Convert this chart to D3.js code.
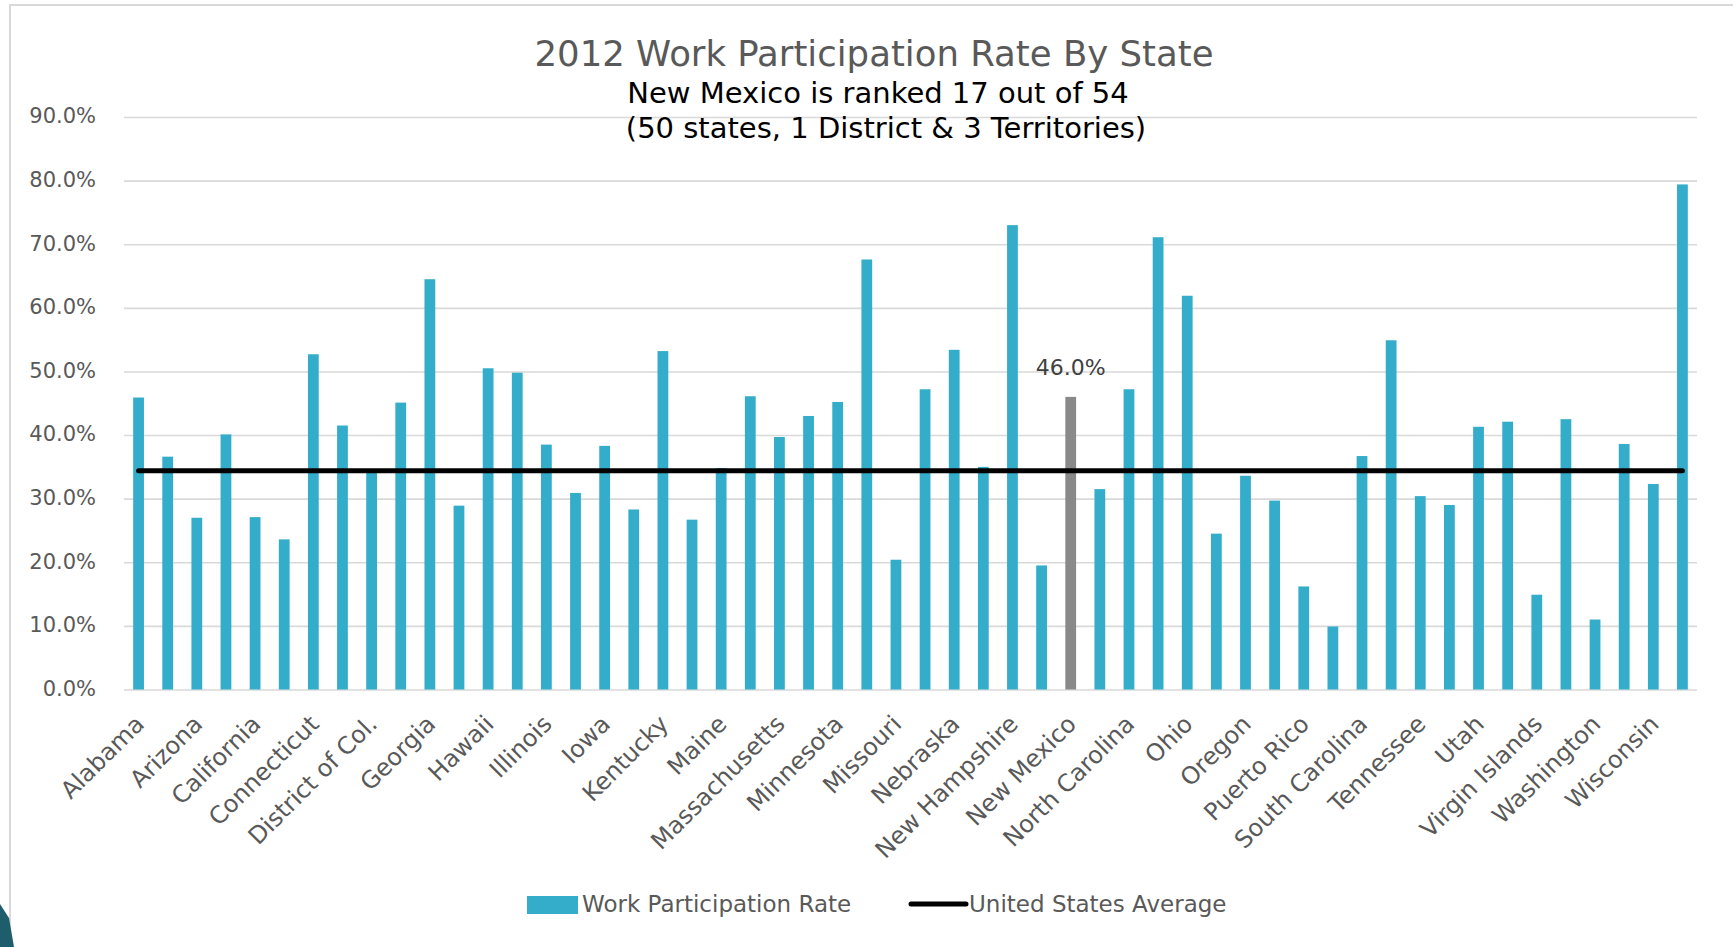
<!DOCTYPE html>
<html>
<head>
<meta charset="utf-8">
<script src="https://cdn.jsdelivr.net/npm/d3@7"></script>
<style>
  html, body { margin: 0; padding: 0; background: #ffffff; }
  svg { display: block; }
  text { font-family: "DejaVu Sans", sans-serif; }
</style>
</head>
<body>
<svg id="chart" width="1733" height="947"></svg>
<script>
// Work participation rate (%) by state, 2012
const states = [
  "Alabama", "Alaska", "Arizona", "Arkansas", "California", "Colorado",
  "Connecticut", "Delaware", "District of Col.", "Florida", "Georgia", "Guam",
  "Hawaii", "Idaho", "Illinois", "Indiana", "Iowa", "Kansas",
  "Kentucky", "Louisiana", "Maine", "Maryland", "Massachusetts", "Michigan",
  "Minnesota", "Mississippi", "Missouri", "Montana", "Nebraska", "Nevada",
  "New Hampshire", "New Jersey", "New Mexico", "New York", "North Carolina", "North Dakota",
  "Ohio", "Oklahoma", "Oregon", "Pennsylvania", "Puerto Rico", "Rhode Island",
  "South Carolina", "South Dakota", "Tennessee", "Texas", "Utah", "Vermont",
  "Virgin Islands", "Virginia", "Washington", "West Virginia", "Wisconsin", "Wyoming"
];
const rates = [
  45.9, 36.6, 27.0, 40.1, 27.1, 23.6,
  52.7, 41.5, 34.6, 45.1, 64.5, 28.9,
  50.5, 49.8, 38.5, 30.9, 38.3, 28.3,
  53.2, 26.7, 34.8, 46.1, 39.7, 43.0,
  45.2, 67.6, 20.4, 47.2, 53.4, 35.0,
  73.0, 19.5, 46.0, 31.5, 47.2, 71.1,
  61.9, 24.5, 33.6, 29.7, 16.2, 9.9,
  36.7, 54.9, 30.4, 29.0, 41.3, 42.1,
  14.9, 42.5, 11.0, 38.6, 32.3, 79.4
];
const usAverage = 34.4;
const highlightState = "New Mexico";
const yTicks = [0, 10, 20, 30, 40, 50, 60, 70, 80, 90];
const chartTitle = "2012 Work Participation Rate By State";
const subtitleLines = ["New Mexico is ranked 17 out of 54", "(50 states, 1 District & 3 Territories)"];
const legendLabels = ["Work Participation Rate", "United States Average"];

const data = states.map((s, i) => ({ state: s, rate: rates[i] }));

const BAR = "#33adca";
const HIGHLIGHT = "#898989";
const GRID = "#d9d9d9";
const TEXT = "#595959";

const svg = d3.select("#chart");
const plot = { left: 124, right: 1697, top: 117, bottom: 689.5 };

// frame of the chart area
svg.append("path")
  .attr("d", "M10,947 V5 H1733")
  .attr("fill", "none")
  .attr("stroke", GRID)
  .attr("stroke-width", 2);

// corner ornament at lower left
svg.append("path")
  .attr("d", "M0,904 L9,918 L14,947 L0,947 Z")
  .attr("fill", "#1e5e6c");

const x = d3.scaleBand()
  .domain(states)
  .range([plot.left, plot.right])
  .paddingInner(0.63)
  .paddingOuter(0.315);

const y = d3.scaleLinear()
  .domain([0, 90])
  .range([plot.bottom, plot.top]);

// y axis with gridlines
const yAxis = svg.append("g")
  .attr("transform", `translate(${plot.left},0)`)
  .call(d3.axisLeft(y)
    .tickValues(yTicks)
    .tickFormat(d => d.toFixed(1) + "%")
    .tickSizeInner(-(plot.right - plot.left))
    .tickSizeOuter(0)
    .tickPadding(28));
yAxis.select(".domain").remove();
yAxis.selectAll(".tick line").attr("stroke", GRID).attr("stroke-width", 1.6);
yAxis.selectAll(".tick text")
  .attr("fill", TEXT)
  .attr("font-size", 21)
  .attr("dy", "0.28em")
  .style("font-family", "'DejaVu Sans', sans-serif");

// bars
svg.append("g")
  .selectAll("rect")
  .data(data)
  .join("rect")
  .attr("x", d => x(d.state))
  .attr("width", x.bandwidth())
  .attr("y", d => y(d.rate))
  .attr("height", d => y(0) - y(d.rate))
  .attr("fill", d => d.state === highlightState ? HIGHLIGHT : BAR);

// value label on the highlighted state
const hl = data.find(d => d.state === highlightState);
svg.append("text")
  .attr("x", x(hl.state) + x.bandwidth() / 2)
  .attr("y", y(hl.rate) - 22)
  .attr("text-anchor", "middle")
  .attr("fill", "#404040")
  .attr("font-size", 22)
  .text(hl.rate.toFixed(1) + "%");

// national average line
const avgLine = d3.line().x(d => x(d) + x.bandwidth() / 2).y(() => y(usAverage));
svg.append("path")
  .attr("d", avgLine([states[0], states[states.length - 1]]))
  .attr("fill", "none")
  .attr("stroke", "#000000")
  .attr("stroke-width", 5)
  .attr("stroke-linecap", "round");

// x axis labels, every other category
const xAxis = svg.append("g")
  .attr("transform", `translate(0,${plot.bottom})`)
  .call(d3.axisBottom(x)
    .tickValues(states.filter((s, i) => i % 2 === 0))
    .tickSize(0)
    .tickPadding(0));
xAxis.select(".domain").remove();
xAxis.selectAll(".tick text")
  .attr("fill", TEXT)
  .attr("font-size", 24)
  .attr("text-anchor", "end")
  .attr("dy", 0)
  .attr("y", 0)
  .attr("transform", "translate(7,36) rotate(-45)")
  .style("font-family", "'DejaVu Sans', sans-serif");

// titles
svg.append("text")
  .attr("x", 874).attr("y", 66)
  .attr("text-anchor", "middle")
  .attr("fill", TEXT)
  .attr("font-size", 35.5)
  .text(chartTitle);
svg.append("g").selectAll("text")
  .data(subtitleLines)
  .join("text")
  .attr("x", (d, i) => 878 + i * 8)
  .attr("y", (d, i) => 103 + i * 35)
  .attr("text-anchor", "middle")
  .attr("fill", "#000000")
  .attr("font-size", 29)
  .text(d => d);

// legend
const legend = svg.append("g");
legend.append("rect")
  .attr("x", 527).attr("y", 896).attr("width", 51).attr("height", 18)
  .attr("fill", BAR);
legend.append("text")
  .attr("x", 582).attr("y", 912)
  .attr("fill", TEXT).attr("font-size", 23)
  .text(legendLabels[0]);
legend.append("line")
  .attr("x1", 911).attr("x2", 966).attr("y1", 904).attr("y2", 904)
  .attr("stroke", "#000000").attr("stroke-width", 5).attr("stroke-linecap", "round");
legend.append("text")
  .attr("x", 969).attr("y", 912)
  .attr("fill", TEXT).attr("font-size", 23)
  .text(legendLabels[1]);
</script>
</body>
</html>
